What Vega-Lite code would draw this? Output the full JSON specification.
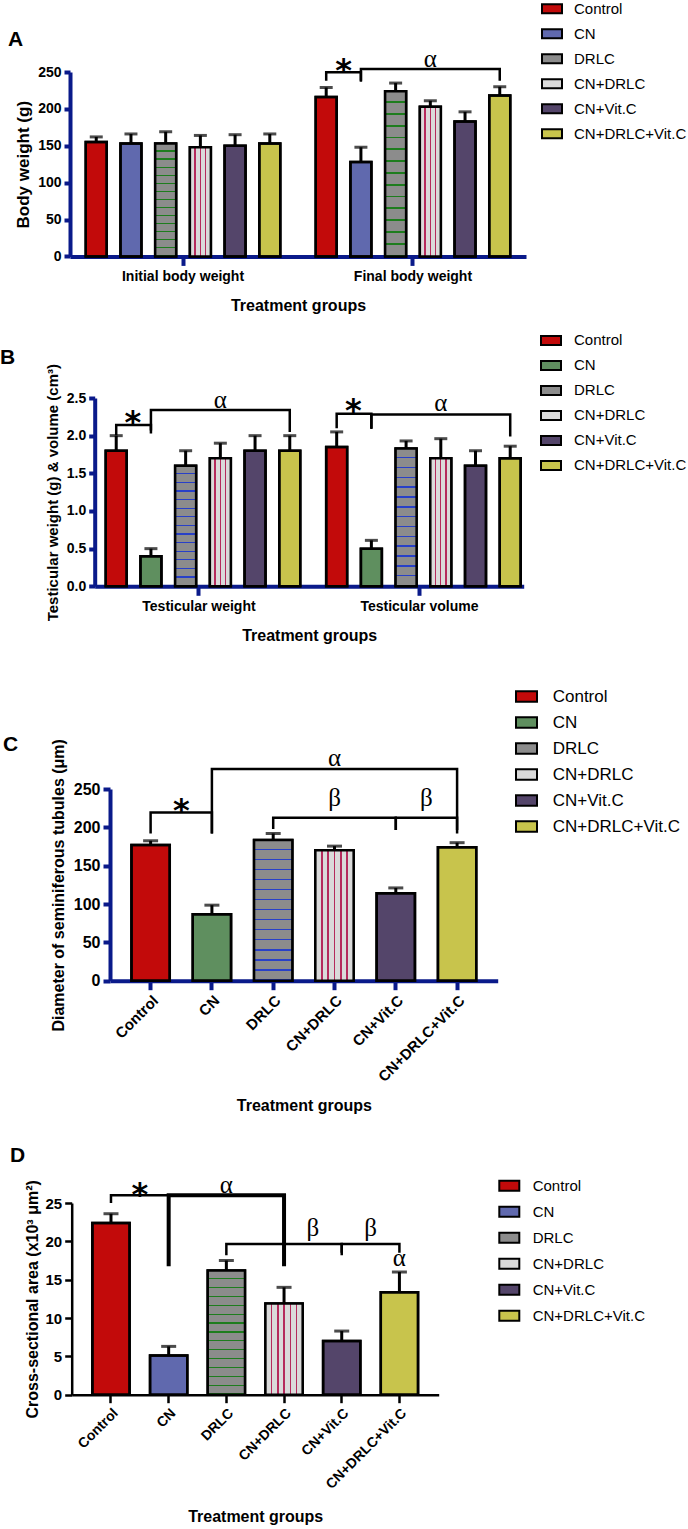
{
"$schema": "https://vega.github.io/schema/vega-lite/v6.json",
"padding": {"left": 0, "top": -3, "right": 0, "bottom": 0},
"spacing": 0,
"columns": 1,
"resolve": {"scale": {"fill": "independent"}},
"config": {
  "view": {"stroke": null},
  "font": "Liberation Sans",
  "axis": {"labelColor": "black", "titleColor": "black", "labelFontWeight": "bold", "titleFontWeight": "bold", "grid": false, "labelFont": "Liberation Sans", "titleFont": "Liberation Sans"},
  "legend": {"title": null, "orient": "none", "symbolStrokeColor": "black", "symbolStrokeWidth": 2, "labelFont": "Liberation Sans", "labelFontWeight": "normal", "labelColor": "black", "padding": 0, "symbolOpacity": 1},
  "title": {"font": "Liberation Sans", "fontWeight": "bold", "fontSize": 21, "color": "black", "anchor": "start", "frame": "group", "orient": "top", "baseline": "alphabetic"}
},
"datasets": {
  "A": [
    {"group": "Initial body weight", "bar": "Control", "value": 155, "upper": 162},
    {"group": "Initial body weight", "bar": "CN", "value": 153, "upper": 166},
    {"group": "Initial body weight", "bar": "DRLC", "value": 153, "upper": 169},
    {"group": "Initial body weight", "bar": "CN+DRLC", "value": 148, "upper": 164},
    {"group": "Initial body weight", "bar": "CN+Vit.C", "value": 150, "upper": 165},
    {"group": "Initial body weight", "bar": "CN+DRLC+Vit.C", "value": 153, "upper": 166},
    {"group": "Final body weight", "bar": "Control", "value": 216, "upper": 229},
    {"group": "Final body weight", "bar": "CN", "value": 128, "upper": 148},
    {"group": "Final body weight", "bar": "DRLC", "value": 224, "upper": 235},
    {"group": "Final body weight", "bar": "CN+DRLC", "value": 203, "upper": 211},
    {"group": "Final body weight", "bar": "CN+Vit.C", "value": 183, "upper": 196},
    {"group": "Final body weight", "bar": "CN+DRLC+Vit.C", "value": 218, "upper": 230}
  ],
  "A_br": [
    {"br": "s", "group": "Final body weight", "bar": "Control", "y": 238.2, "o": 1},
    {"br": "s", "group": "Final body weight", "bar": "Control", "y": 249.5, "o": 2},
    {"br": "s", "group": "Final body weight", "bar": "CN", "y": 249.5, "o": 3},
    {"br": "s", "group": "Final body weight", "bar": "CN", "y": 238.2, "o": 4},
    {"br": "a", "group": "Final body weight", "bar": "CN", "y": 236.9, "o": 1},
    {"br": "a", "group": "Final body weight", "bar": "CN", "y": 254, "o": 2},
    {"br": "a", "group": "Final body weight", "bar": "CN+DRLC+Vit.C", "y": 254, "o": 3},
    {"br": "a", "group": "Final body weight", "bar": "CN+DRLC+Vit.C", "y": 238.2, "o": 4}
  ],
  "A_lab": [
    {"group": "Final body weight", "bar": "Control", "y": 237.8, "t": "*", "pos": "between"},
    {"group": "Final body weight", "bar": "CN+DRLC", "y": 257.2, "t": "α", "pos": "center"}
  ],
  "B": [
    {"group": "Testicular weight", "bar": "Control", "value": 1.8, "upper": 2.0},
    {"group": "Testicular weight", "bar": "CN", "value": 0.4, "upper": 0.5},
    {"group": "Testicular weight", "bar": "DRLC", "value": 1.6, "upper": 1.8},
    {"group": "Testicular weight", "bar": "CN+DRLC", "value": 1.7, "upper": 1.9},
    {"group": "Testicular weight", "bar": "CN+Vit.C", "value": 1.8, "upper": 2.0},
    {"group": "Testicular weight", "bar": "CN+DRLC+Vit.C", "value": 1.8, "upper": 2.0},
    {"group": "Testicular volume", "bar": "Control", "value": 1.85, "upper": 2.05},
    {"group": "Testicular volume", "bar": "CN", "value": 0.5, "upper": 0.61},
    {"group": "Testicular volume", "bar": "DRLC", "value": 1.83, "upper": 1.93},
    {"group": "Testicular volume", "bar": "CN+DRLC", "value": 1.7, "upper": 1.96},
    {"group": "Testicular volume", "bar": "CN+Vit.C", "value": 1.6, "upper": 1.8},
    {"group": "Testicular volume", "bar": "CN+DRLC+Vit.C", "value": 1.7, "upper": 1.86}
  ],
  "B_br": [
    {"br": "sW", "group": "Testicular weight", "bar": "Control", "y": 2.005, "o": 1},
    {"br": "sW", "group": "Testicular weight", "bar": "Control", "y": 2.14, "o": 2},
    {"br": "sW", "group": "Testicular weight", "bar": "CN", "y": 2.14, "o": 3},
    {"br": "sW", "group": "Testicular weight", "bar": "CN", "y": 2.03, "o": 4},
    {"br": "aW", "group": "Testicular weight", "bar": "CN", "y": 2.07, "o": 1},
    {"br": "aW", "group": "Testicular weight", "bar": "CN", "y": 2.34, "o": 2},
    {"br": "aW", "group": "Testicular weight", "bar": "CN+DRLC+Vit.C", "y": 2.34, "o": 3},
    {"br": "aW", "group": "Testicular weight", "bar": "CN+DRLC+Vit.C", "y": 2.05, "o": 4},
    {"br": "sV", "group": "Testicular volume", "bar": "Control", "y": 2.1, "o": 1},
    {"br": "sV", "group": "Testicular volume", "bar": "Control", "y": 2.29, "o": 2},
    {"br": "sV", "group": "Testicular volume", "bar": "CN", "y": 2.29, "o": 3},
    {"br": "sV", "group": "Testicular volume", "bar": "CN", "y": 2.1, "o": 4},
    {"br": "aV", "group": "Testicular volume", "bar": "CN", "y": 2.09, "o": 1},
    {"br": "aV", "group": "Testicular volume", "bar": "CN", "y": 2.28, "o": 2},
    {"br": "aV", "group": "Testicular volume", "bar": "CN+DRLC+Vit.C", "y": 2.28, "o": 3},
    {"br": "aV", "group": "Testicular volume", "bar": "CN+DRLC+Vit.C", "y": 1.99, "o": 4}
  ],
  "B_lab": [
    {"group": "Testicular weight", "bar": "Control", "y": 2.03, "t": "*", "pos": "between"},
    {"group": "Testicular weight", "bar": "CN+DRLC", "y": 2.37, "t": "α", "pos": "center"},
    {"group": "Testicular volume", "bar": "Control", "y": 2.2, "t": "*", "pos": "between"},
    {"group": "Testicular volume", "bar": "CN+DRLC", "y": 2.33, "t": "α", "pos": "center"}
  ],
  "C": [
    {"bar": "Control", "value": 177, "upper": 182.5},
    {"bar": "CN", "value": 86.5, "upper": 98.5},
    {"bar": "DRLC", "value": 183.5, "upper": 192},
    {"bar": "CN+DRLC", "value": 170, "upper": 175.5},
    {"bar": "CN+Vit.C", "value": 114, "upper": 121},
    {"bar": "CN+DRLC+Vit.C", "value": 174, "upper": 180}
  ],
  "C_br": [
    {"br": "s", "bar": "Control", "y": 192, "o": 1},
    {"br": "s", "bar": "Control", "y": 219.5, "o": 2},
    {"br": "s", "bar": "CN", "y": 219.5, "o": 3},
    {"br": "s", "bar": "CN", "y": 192, "o": 4},
    {"br": "a", "bar": "CN", "y": 192, "o": 1},
    {"br": "a", "bar": "CN", "y": 276, "o": 2},
    {"br": "a", "bar": "CN+DRLC+Vit.C", "y": 276, "o": 3},
    {"br": "a", "bar": "CN+DRLC+Vit.C", "y": 192, "o": 4},
    {"br": "b1", "bar": "DRLC", "y": 197.7, "o": 1},
    {"br": "b1", "bar": "DRLC", "y": 212.6, "o": 2},
    {"br": "b1", "bar": "CN+Vit.C", "y": 212.6, "o": 3},
    {"br": "b1", "bar": "CN+Vit.C", "y": 196.4, "o": 4},
    {"br": "b2", "bar": "CN+Vit.C", "y": 196.4, "o": 1},
    {"br": "b2", "bar": "CN+Vit.C", "y": 212.6, "o": 2},
    {"br": "b2", "bar": "CN+DRLC+Vit.C", "y": 212.6, "o": 3},
    {"br": "b2", "bar": "CN+DRLC+Vit.C", "y": 196.4, "o": 4}
  ],
  "C_lab": [
    {"bar": "Control", "y": 208.7, "t": "*", "pos": "between"},
    {"bar": "CN+DRLC", "y": 279.5, "t": "α", "pos": "center"},
    {"bar": "CN+DRLC", "y": 227.3, "t": "β", "pos": "center"},
    {"bar": "CN+Vit.C", "y": 227.3, "t": "β", "pos": "between"}
  ],
  "D": [
    {"bar": "Control", "value": 22.4, "upper": 23.6},
    {"bar": "CN", "value": 5.1, "upper": 6.3},
    {"bar": "DRLC", "value": 16.2, "upper": 17.5},
    {"bar": "CN+DRLC", "value": 11.9, "upper": 14.0},
    {"bar": "CN+Vit.C", "value": 7.0, "upper": 8.3},
    {"bar": "CN+DRLC+Vit.C", "value": 13.35, "upper": 16.0}
  ],
  "D_br": [
    {"br": "s", "bar": "Control", "y": 25.0, "o": 1},
    {"br": "s", "bar": "Control", "y": 26.0, "o": 2},
    {"br": "s", "bar": "CN", "y": 26.0, "o": 3},
    {"br": "s", "bar": "CN", "y": 24.2, "o": 4},
    {"br": "a", "bar": "CN", "y": 16.75, "o": 1},
    {"br": "a", "bar": "CN", "y": 26.0, "o": 2},
    {"br": "a", "bar": "CN+DRLC", "y": 26.0, "o": 3},
    {"br": "a", "bar": "CN+DRLC", "y": 16.75, "o": 4},
    {"br": "b1", "bar": "DRLC", "y": 18.2, "o": 1},
    {"br": "b1", "bar": "DRLC", "y": 19.65, "o": 2},
    {"br": "b1", "bar": "CN+Vit.C", "y": 19.65, "o": 3},
    {"br": "b1", "bar": "CN+Vit.C", "y": 18.2, "o": 4},
    {"br": "b2", "bar": "CN+Vit.C", "y": 18.5, "o": 1},
    {"br": "b2", "bar": "CN+Vit.C", "y": 19.65, "o": 2},
    {"br": "b2", "bar": "CN+DRLC+Vit.C", "y": 19.65, "o": 3},
    {"br": "b2", "bar": "CN+DRLC+Vit.C", "y": 18.5, "o": 4}
  ],
  "D_lab": [
    {"bar": "Control", "y": 24.7, "t": "*", "pos": "between"},
    {"bar": "DRLC", "y": 26.3, "t": "α", "pos": "center"},
    {"bar": "CN+DRLC", "y": 20.7, "t": "β", "pos": "between"},
    {"bar": "CN+Vit.C", "y": 20.7, "t": "β", "pos": "between"},
    {"bar": "CN+DRLC+Vit.C", "y": 16.75, "t": "α", "pos": "center"}
  ]
},
"concat": [
{
  "width": 456, "height": 184.4,
  "title": {"text": "A", "dx": -62, "offset": -51.9},
  "data": {"name": "A"},
  "encoding": {
    "x": {"field": "group", "type": "nominal", "scale": {"domain": ["Initial body weight", "Final body weight"], "paddingInner": 0.154, "paddingOuter": 0.0685},
      "axis": {"title": ["Treatment groups", ""], "titleLineHeight": 14.7, "labelAngle": 0, "labelFontSize": 14, "labelPadding": 4.5, "titleFontSize": 16, "titlePadding": 13.8, "domainColor": "#0a1a8a", "domainWidth": 4, "tickColor": "#0a1a8a", "tickWidth": 4, "tickSize": 9}},
    "xOffset": {"field": "bar", "type": "nominal", "scale": {"domain": ["Control", "CN", "DRLC", "CN+DRLC", "CN+Vit.C", "CN+DRLC+Vit.C"], "paddingInner": 0.395, "paddingOuter": 0}}
  },
  "layer": [
    {"mark": {"type": "bar", "stroke": "black", "strokeWidth": 2.5},
     "encoding": {
       "y": {"field": "value", "type": "quantitative", "title": "Body weight (g)", "scale": {"domain": [0, 250], "nice": false},
         "axis": {"values": [0, 50, 100, 150, 200, 250], "labelFontSize": 14, "labelPadding": 3, "titleFontSize": 17, "titlePadding": 5, "domainColor": "#0a1a8a", "domainWidth": 4, "tickColor": "#0a1a8a", "tickWidth": 4, "tickSize": 6}},
       "fill": {"field": "bar", "type": "nominal", "scale": {"domain": ["Control", "CN", "DRLC", "CN+DRLC", "CN+Vit.C", "CN+DRLC+Vit.C"], "range": ["#c20a0a", "#6069ae", "#8c8c8c", "#dadada", "#54456a", "#c8c44c"]},
         "legend": {"legendX": 471, "legendY": -74.3, "symbolType": "M-1,-0.45H1V0.45H-1Z", "symbolSize": 400, "labelFontSize": 15, "labelOffset": 11, "rowPadding": 5}}
     }},
    {"mark": {"type": "bar", "stroke": "black", "strokeWidth": 2.5},
     "encoding": {
       "y": {"field": "value", "type": "quantitative", "title": "Body weight (g)", "axis": {"values": [0, 50, 100, 150, 200, 250], "labelFontSize": 14, "labelPadding": 3, "titleFontSize": 17, "titlePadding": 5, "domainColor": "#0a1a8a", "domainWidth": 4, "tickColor": "#0a1a8a", "tickWidth": 4, "tickSize": 6}},
       "fill": {"condition": [
         {"test": "datum.bar === 'DRLC'", "value": {"gradient": "linear", "x1": 0, "y1": 0, "x2": 0, "y2": 1, "stops": [
           {"offset": 0, "color": "#8c8c8c"}, {"offset": 0.0607, "color": "#8c8c8c"}, {"offset": 0.0607, "color": "#1e7d1e"}, {"offset": 0.0714, "color": "#1e7d1e"},
           {"offset": 0.0714, "color": "#8c8c8c"}, {"offset": 0.1321, "color": "#8c8c8c"}, {"offset": 0.1321, "color": "#1e7d1e"}, {"offset": 0.1429, "color": "#1e7d1e"},
           {"offset": 0.1429, "color": "#8c8c8c"}, {"offset": 0.2036, "color": "#8c8c8c"}, {"offset": 0.2036, "color": "#1e7d1e"}, {"offset": 0.2143, "color": "#1e7d1e"},
           {"offset": 0.2143, "color": "#8c8c8c"}, {"offset": 0.275, "color": "#8c8c8c"}, {"offset": 0.275, "color": "#1e7d1e"}, {"offset": 0.2857, "color": "#1e7d1e"},
           {"offset": 0.2857, "color": "#8c8c8c"}, {"offset": 0.3464, "color": "#8c8c8c"}, {"offset": 0.3464, "color": "#1e7d1e"}, {"offset": 0.3571, "color": "#1e7d1e"},
           {"offset": 0.3571, "color": "#8c8c8c"}, {"offset": 0.4179, "color": "#8c8c8c"}, {"offset": 0.4179, "color": "#1e7d1e"}, {"offset": 0.4286, "color": "#1e7d1e"},
           {"offset": 0.4286, "color": "#8c8c8c"}, {"offset": 0.4893, "color": "#8c8c8c"}, {"offset": 0.4893, "color": "#1e7d1e"}, {"offset": 0.5, "color": "#1e7d1e"},
           {"offset": 0.5, "color": "#8c8c8c"}, {"offset": 0.5607, "color": "#8c8c8c"}, {"offset": 0.5607, "color": "#1e7d1e"}, {"offset": 0.5714, "color": "#1e7d1e"},
           {"offset": 0.5714, "color": "#8c8c8c"}, {"offset": 0.6321, "color": "#8c8c8c"}, {"offset": 0.6321, "color": "#1e7d1e"}, {"offset": 0.6429, "color": "#1e7d1e"},
           {"offset": 0.6429, "color": "#8c8c8c"}, {"offset": 0.7036, "color": "#8c8c8c"}, {"offset": 0.7036, "color": "#1e7d1e"}, {"offset": 0.7143, "color": "#1e7d1e"},
           {"offset": 0.7143, "color": "#8c8c8c"}, {"offset": 0.775, "color": "#8c8c8c"}, {"offset": 0.775, "color": "#1e7d1e"}, {"offset": 0.7857, "color": "#1e7d1e"},
           {"offset": 0.7857, "color": "#8c8c8c"}, {"offset": 0.8464, "color": "#8c8c8c"}, {"offset": 0.8464, "color": "#1e7d1e"}, {"offset": 0.8571, "color": "#1e7d1e"},
           {"offset": 0.8571, "color": "#8c8c8c"}, {"offset": 0.9179, "color": "#8c8c8c"}, {"offset": 0.9179, "color": "#1e7d1e"}, {"offset": 0.9286, "color": "#1e7d1e"},
           {"offset": 0.9286, "color": "#8c8c8c"}, {"offset": 0.9893, "color": "#8c8c8c"}, {"offset": 0.9893, "color": "#1e7d1e"}, {"offset": 1, "color": "#1e7d1e"}]}},
         {"test": "datum.bar === 'CN+DRLC'", "value": {"gradient": "linear", "x1": 0, "y1": 0, "x2": 1, "y2": 0, "stops": [
           {"offset": 0, "color": "#dadada"}, {"offset": 0.22, "color": "#dadada"}, {"offset": 0.22, "color": "#b52a5c"}, {"offset": 0.28, "color": "#b52a5c"},
           {"offset": 0.28, "color": "#dadada"}, {"offset": 0.47, "color": "#dadada"}, {"offset": 0.47, "color": "#b52a5c"}, {"offset": 0.53, "color": "#b52a5c"},
           {"offset": 0.53, "color": "#dadada"}, {"offset": 0.72, "color": "#dadada"}, {"offset": 0.72, "color": "#b52a5c"}, {"offset": 0.78, "color": "#b52a5c"},
           {"offset": 0.78, "color": "#dadada"}, {"offset": 1, "color": "#dadada"}]}}
       ], "value": "transparent"}
     }},
    {"mark": {"type": "rule", "color": "black", "strokeWidth": 3},
     "encoding": {"y": {"field": "value", "type": "quantitative", "title": "Body weight (g)", "axis": {"values": [0, 50, 100, 150, 200, 250], "labelFontSize": 14, "labelPadding": 3, "titleFontSize": 17, "titlePadding": 5, "domainColor": "#0a1a8a", "domainWidth": 4, "tickColor": "#0a1a8a", "tickWidth": 4, "tickSize": 6}}, "y2": {"field": "upper"}}},
    {"mark": {"type": "tick", "color": "black", "thickness": 3, "size": 13},
     "encoding": {"y": {"field": "upper", "type": "quantitative", "title": "Body weight (g)", "axis": {"values": [0, 50, 100, 150, 200, 250], "labelFontSize": 14, "labelPadding": 3, "titleFontSize": 17, "titlePadding": 5, "domainColor": "#0a1a8a", "domainWidth": 4, "tickColor": "#0a1a8a", "tickWidth": 4, "tickSize": 6}}}},
    {"data": {"name": "A_br"}, "mark": {"type": "line", "color": "black", "strokeWidth": 2.5, "strokeJoin": "miter"},
     "encoding": {"y": {"field": "y", "type": "quantitative", "title": "Body weight (g)", "axis": {"values": [0, 50, 100, 150, 200, 250], "labelFontSize": 14, "labelPadding": 3, "titleFontSize": 17, "titlePadding": 5, "domainColor": "#0a1a8a", "domainWidth": 4, "tickColor": "#0a1a8a", "tickWidth": 4, "tickSize": 6}}, "detail": {"field": "br"}, "order": {"field": "o"}}},
    {"data": {"name": "A_lab"}, "transform": [{"filter": "datum.t === '*'"}],
     "mark": {"type": "text", "font": "DejaVu Sans", "fontWeight": "bold", "fontSize": 32, "baseline": "alphabetic", "dx": 17.35, "color": "black"},
     "encoding": {"y": {"field": "y", "type": "quantitative", "title": "Body weight (g)", "axis": {"values": [0, 50, 100, 150, 200, 250], "labelFontSize": 14, "labelPadding": 3, "titleFontSize": 17, "titlePadding": 5, "domainColor": "#0a1a8a", "domainWidth": 4, "tickColor": "#0a1a8a", "tickWidth": 4, "tickSize": 6}}, "text": {"field": "t"}}},
    {"data": {"name": "A_lab"}, "transform": [{"filter": "datum.t !== '*'"}],
     "mark": {"type": "text", "font": "Liberation Serif", "fontSize": 25, "baseline": "alphabetic", "color": "black"},
     "encoding": {"y": {"field": "y", "type": "quantitative", "title": "Body weight (g)", "axis": {"values": [0, 50, 100, 150, 200, 250], "labelFontSize": 14, "labelPadding": 3, "titleFontSize": 17, "titlePadding": 5, "domainColor": "#0a1a8a", "domainWidth": 4, "tickColor": "#0a1a8a", "tickWidth": 4, "tickSize": 6}}, "text": {"field": "t"}}}
  ]
},
{
  "width": 453.7, "height": 188.3,
  "title": {"text": "B", "dx": -70, "offset": -38.1},
  "data": {"name": "B"},
  "encoding": {
    "x": {"field": "group", "type": "nominal", "scale": {"domain": ["Testicular weight", "Testicular volume"], "range": [24.7, 453.7], "paddingInner": 0.154, "paddingOuter": 0.05},
      "axis": {"title": ["Treatment groups", ""], "titleLineHeight": 41.3, "labelAngle": 0, "labelFontSize": 14, "labelPadding": 4.3, "titleFontSize": 16, "titlePadding": 14, "domainColor": "#0a1a8a", "domainWidth": 4, "tickColor": "#0a1a8a", "tickWidth": 4, "tickSize": 9}},
    "xOffset": {"field": "bar", "type": "nominal", "scale": {"domain": ["Control", "CN", "DRLC", "CN+DRLC", "CN+Vit.C", "CN+DRLC+Vit.C"], "paddingInner": 0.4, "paddingOuter": 0}}
  },
  "layer": [
    {"mark": {"type": "bar", "stroke": "black", "strokeWidth": 2.5},
     "encoding": {
       "y": {"field": "value", "type": "quantitative", "title": "Testicular weight (g) & volume (cm³)", "scale": {"domain": [0, 2.5], "nice": false},
         "axis": {"offset": -24.7, "values": [0, 0.5, 1, 1.5, 2, 2.5], "format": ".1f", "labelFontSize": 14, "labelPadding": 3, "titleFontSize": 15, "titlePadding": 6, "domainColor": "#0a1a8a", "domainWidth": 4, "tickColor": "#0a1a8a", "tickWidth": 4, "tickSize": 6}},
       "fill": {"field": "bar", "type": "nominal", "scale": {"domain": ["Control", "CN", "DRLC", "CN+DRLC", "CN+Vit.C", "CN+DRLC+Vit.C"], "range": ["#c20a0a", "#5f8f5f", "#8c8c8c", "#dadada", "#54456a", "#c8c44c"]},
         "legend": {"legendX": 470, "legendY": -68.6, "symbolType": "M-1,-0.45H1V0.45H-1Z", "symbolSize": 400, "labelFontSize": 15, "labelOffset": 12, "rowPadding": 5}}
     }},
    {"mark": {"type": "bar", "stroke": "black", "strokeWidth": 2.5},
     "encoding": {
       "y": {"field": "value", "type": "quantitative", "title": "Testicular weight (g) & volume (cm³)", "axis": {"offset": -24.7, "values": [0, 0.5, 1, 1.5, 2, 2.5], "format": ".1f", "labelFontSize": 14, "labelPadding": 3, "titleFontSize": 15, "titlePadding": 6, "domainColor": "#0a1a8a", "domainWidth": 4, "tickColor": "#0a1a8a", "tickWidth": 4, "tickSize": 6}},
       "fill": {"condition": [
         {"test": "datum.bar === 'DRLC'", "value": {"gradient": "linear", "x1": 0, "y1": 0, "x2": 0, "y2": 1, "stops": [
           {"offset": 0, "color": "#8c8c8c"}, {"offset": 0.0607, "color": "#8c8c8c"}, {"offset": 0.0607, "color": "#2840c8"}, {"offset": 0.0714, "color": "#2840c8"},
           {"offset": 0.0714, "color": "#8c8c8c"}, {"offset": 0.1321, "color": "#8c8c8c"}, {"offset": 0.1321, "color": "#2840c8"}, {"offset": 0.1429, "color": "#2840c8"},
           {"offset": 0.1429, "color": "#8c8c8c"}, {"offset": 0.2036, "color": "#8c8c8c"}, {"offset": 0.2036, "color": "#2840c8"}, {"offset": 0.2143, "color": "#2840c8"},
           {"offset": 0.2143, "color": "#8c8c8c"}, {"offset": 0.275, "color": "#8c8c8c"}, {"offset": 0.275, "color": "#2840c8"}, {"offset": 0.2857, "color": "#2840c8"},
           {"offset": 0.2857, "color": "#8c8c8c"}, {"offset": 0.3464, "color": "#8c8c8c"}, {"offset": 0.3464, "color": "#2840c8"}, {"offset": 0.3571, "color": "#2840c8"},
           {"offset": 0.3571, "color": "#8c8c8c"}, {"offset": 0.4179, "color": "#8c8c8c"}, {"offset": 0.4179, "color": "#2840c8"}, {"offset": 0.4286, "color": "#2840c8"},
           {"offset": 0.4286, "color": "#8c8c8c"}, {"offset": 0.4893, "color": "#8c8c8c"}, {"offset": 0.4893, "color": "#2840c8"}, {"offset": 0.5, "color": "#2840c8"},
           {"offset": 0.5, "color": "#8c8c8c"}, {"offset": 0.5607, "color": "#8c8c8c"}, {"offset": 0.5607, "color": "#2840c8"}, {"offset": 0.5714, "color": "#2840c8"},
           {"offset": 0.5714, "color": "#8c8c8c"}, {"offset": 0.6321, "color": "#8c8c8c"}, {"offset": 0.6321, "color": "#2840c8"}, {"offset": 0.6429, "color": "#2840c8"},
           {"offset": 0.6429, "color": "#8c8c8c"}, {"offset": 0.7036, "color": "#8c8c8c"}, {"offset": 0.7036, "color": "#2840c8"}, {"offset": 0.7143, "color": "#2840c8"},
           {"offset": 0.7143, "color": "#8c8c8c"}, {"offset": 0.775, "color": "#8c8c8c"}, {"offset": 0.775, "color": "#2840c8"}, {"offset": 0.7857, "color": "#2840c8"},
           {"offset": 0.7857, "color": "#8c8c8c"}, {"offset": 0.8464, "color": "#8c8c8c"}, {"offset": 0.8464, "color": "#2840c8"}, {"offset": 0.8571, "color": "#2840c8"},
           {"offset": 0.8571, "color": "#8c8c8c"}, {"offset": 0.9179, "color": "#8c8c8c"}, {"offset": 0.9179, "color": "#2840c8"}, {"offset": 0.9286, "color": "#2840c8"},
           {"offset": 0.9286, "color": "#8c8c8c"}, {"offset": 0.9893, "color": "#8c8c8c"}, {"offset": 0.9893, "color": "#2840c8"}, {"offset": 1, "color": "#2840c8"}]}},
         {"test": "datum.bar === 'CN+DRLC'", "value": {"gradient": "linear", "x1": 0, "y1": 0, "x2": 1, "y2": 0, "stops": [
           {"offset": 0, "color": "#dadada"}, {"offset": 0.22, "color": "#dadada"}, {"offset": 0.22, "color": "#b52a5c"}, {"offset": 0.28, "color": "#b52a5c"},
           {"offset": 0.28, "color": "#dadada"}, {"offset": 0.47, "color": "#dadada"}, {"offset": 0.47, "color": "#b52a5c"}, {"offset": 0.53, "color": "#b52a5c"},
           {"offset": 0.53, "color": "#dadada"}, {"offset": 0.72, "color": "#dadada"}, {"offset": 0.72, "color": "#b52a5c"}, {"offset": 0.78, "color": "#b52a5c"},
           {"offset": 0.78, "color": "#dadada"}, {"offset": 1, "color": "#dadada"}]}}
       ], "value": "transparent"}
     }},
    {"mark": {"type": "rule", "color": "black", "strokeWidth": 3},
     "encoding": {"y": {"field": "value", "type": "quantitative", "title": "Testicular weight (g) & volume (cm³)", "axis": {"offset": -24.7, "values": [0, 0.5, 1, 1.5, 2, 2.5], "format": ".1f", "labelFontSize": 14, "labelPadding": 3, "titleFontSize": 15, "titlePadding": 6, "domainColor": "#0a1a8a", "domainWidth": 4, "tickColor": "#0a1a8a", "tickWidth": 4, "tickSize": 6}}, "y2": {"field": "upper"}}},
    {"mark": {"type": "tick", "color": "black", "thickness": 3, "size": 13},
     "encoding": {"y": {"field": "upper", "type": "quantitative", "title": "Testicular weight (g) & volume (cm³)", "axis": {"offset": -24.7, "values": [0, 0.5, 1, 1.5, 2, 2.5], "format": ".1f", "labelFontSize": 14, "labelPadding": 3, "titleFontSize": 15, "titlePadding": 6, "domainColor": "#0a1a8a", "domainWidth": 4, "tickColor": "#0a1a8a", "tickWidth": 4, "tickSize": 6}}}},
    {"data": {"name": "B_br"}, "mark": {"type": "line", "color": "black", "strokeWidth": 2.5, "strokeJoin": "miter"},
     "encoding": {"y": {"field": "y", "type": "quantitative", "title": "Testicular weight (g) & volume (cm³)", "axis": {"offset": -24.7, "values": [0, 0.5, 1, 1.5, 2, 2.5], "format": ".1f", "labelFontSize": 14, "labelPadding": 3, "titleFontSize": 15, "titlePadding": 6, "domainColor": "#0a1a8a", "domainWidth": 4, "tickColor": "#0a1a8a", "tickWidth": 4, "tickSize": 6}}, "detail": {"field": "br"}, "order": {"field": "o"}}},
    {"data": {"name": "B_lab"}, "transform": [{"filter": "datum.t === '*'"}],
     "mark": {"type": "text", "font": "DejaVu Sans", "fontWeight": "bold", "fontSize": 32, "baseline": "alphabetic", "dx": 16.65, "color": "black"},
     "encoding": {"y": {"field": "y", "type": "quantitative", "title": "Testicular weight (g) & volume (cm³)", "axis": {"offset": -24.7, "values": [0, 0.5, 1, 1.5, 2, 2.5], "format": ".1f", "labelFontSize": 14, "labelPadding": 3, "titleFontSize": 15, "titlePadding": 6, "domainColor": "#0a1a8a", "domainWidth": 4, "tickColor": "#0a1a8a", "tickWidth": 4, "tickSize": 6}}, "text": {"field": "t"}}},
    {"data": {"name": "B_lab"}, "transform": [{"filter": "datum.t !== '*'"}],
     "mark": {"type": "text", "font": "Liberation Serif", "fontSize": 25, "baseline": "alphabetic", "color": "black"},
     "encoding": {"y": {"field": "y", "type": "quantitative", "title": "Testicular weight (g) & volume (cm³)", "axis": {"offset": -24.7, "values": [0, 0.5, 1, 1.5, 2, 2.5], "format": ".1f", "labelFontSize": 14, "labelPadding": 3, "titleFontSize": 15, "titlePadding": 6, "domainColor": "#0a1a8a", "domainWidth": 4, "tickColor": "#0a1a8a", "tickWidth": 4, "tickSize": 6}}, "text": {"field": "t"}}}
  ]
},
{
  "width": 427.7, "height": 191.7,
  "title": {"text": "C", "dx": -67, "offset": -69.4},
  "data": {"name": "C"},
  "encoding": {
    "x": {"field": "bar", "type": "nominal", "scale": {"domain": ["Control", "CN", "DRLC", "CN+DRLC", "CN+Vit.C", "CN+DRLC+Vit.C"], "range": [40, 427.7], "paddingInner": 0.375, "paddingOuter": 0.35},
      "axis": {"title": ["Treatment groups", ""], "titleLineHeight": 31.3, "labelAngle": -45, "labelFontSize": 15, "labelPadding": 3, "titleFontSize": 16, "titlePadding": 12.7, "domainColor": "#0a1a8a", "domainWidth": 4, "tickColor": "#0a1a8a", "tickWidth": 4, "tickSize": 9}}
  },
  "layer": [
    {"mark": {"type": "bar", "stroke": "black", "strokeWidth": 2.5},
     "encoding": {
       "y": {"field": "value", "type": "quantitative", "title": "Diameter of seminiferous tubules (μm)", "scale": {"domain": [0, 250], "nice": false},
         "axis": {"offset": -40, "values": [0, 50, 100, 150, 200, 250], "labelFontSize": 16, "labelPadding": 3, "titleFontSize": 16, "titlePadding": 7, "domainColor": "#0a1a8a", "domainWidth": 4, "tickColor": "#0a1a8a", "tickWidth": 4, "tickSize": 7}},
       "fill": {"field": "bar", "type": "nominal", "scale": {"domain": ["Control", "CN", "DRLC", "CN+DRLC", "CN+Vit.C", "CN+DRLC+Vit.C"], "range": ["#c20a0a", "#5f8f5f", "#8c8c8c", "#dadada", "#54456a", "#c8c44c"]},
         "legend": {"legendX": 445, "legendY": -103.9, "symbolType": "M-1,-0.5H1V0.5H-1Z", "symbolSize": 441, "labelFontSize": 17, "labelOffset": 14.7, "rowPadding": 5}}
     }},
    {"mark": {"type": "bar", "stroke": "black", "strokeWidth": 2.5},
     "encoding": {
       "y": {"field": "value", "type": "quantitative", "title": "Diameter of seminiferous tubules (μm)", "axis": {"offset": -40, "values": [0, 50, 100, 150, 200, 250], "labelFontSize": 16, "labelPadding": 3, "titleFontSize": 16, "titlePadding": 7, "domainColor": "#0a1a8a", "domainWidth": 4, "tickColor": "#0a1a8a", "tickWidth": 4, "tickSize": 7}},
       "fill": {"condition": [
         {"test": "datum.bar === 'DRLC'", "value": {"gradient": "linear", "x1": 0, "y1": 0, "x2": 0, "y2": 1, "stops": [
           {"offset": 0, "color": "#8c8c8c"}, {"offset": 0.0607, "color": "#8c8c8c"}, {"offset": 0.0607, "color": "#2840c8"}, {"offset": 0.0714, "color": "#2840c8"},
           {"offset": 0.0714, "color": "#8c8c8c"}, {"offset": 0.1321, "color": "#8c8c8c"}, {"offset": 0.1321, "color": "#2840c8"}, {"offset": 0.1429, "color": "#2840c8"},
           {"offset": 0.1429, "color": "#8c8c8c"}, {"offset": 0.2036, "color": "#8c8c8c"}, {"offset": 0.2036, "color": "#2840c8"}, {"offset": 0.2143, "color": "#2840c8"},
           {"offset": 0.2143, "color": "#8c8c8c"}, {"offset": 0.275, "color": "#8c8c8c"}, {"offset": 0.275, "color": "#2840c8"}, {"offset": 0.2857, "color": "#2840c8"},
           {"offset": 0.2857, "color": "#8c8c8c"}, {"offset": 0.3464, "color": "#8c8c8c"}, {"offset": 0.3464, "color": "#2840c8"}, {"offset": 0.3571, "color": "#2840c8"},
           {"offset": 0.3571, "color": "#8c8c8c"}, {"offset": 0.4179, "color": "#8c8c8c"}, {"offset": 0.4179, "color": "#2840c8"}, {"offset": 0.4286, "color": "#2840c8"},
           {"offset": 0.4286, "color": "#8c8c8c"}, {"offset": 0.4893, "color": "#8c8c8c"}, {"offset": 0.4893, "color": "#2840c8"}, {"offset": 0.5, "color": "#2840c8"},
           {"offset": 0.5, "color": "#8c8c8c"}, {"offset": 0.5607, "color": "#8c8c8c"}, {"offset": 0.5607, "color": "#2840c8"}, {"offset": 0.5714, "color": "#2840c8"},
           {"offset": 0.5714, "color": "#8c8c8c"}, {"offset": 0.6321, "color": "#8c8c8c"}, {"offset": 0.6321, "color": "#2840c8"}, {"offset": 0.6429, "color": "#2840c8"},
           {"offset": 0.6429, "color": "#8c8c8c"}, {"offset": 0.7036, "color": "#8c8c8c"}, {"offset": 0.7036, "color": "#2840c8"}, {"offset": 0.7143, "color": "#2840c8"},
           {"offset": 0.7143, "color": "#8c8c8c"}, {"offset": 0.775, "color": "#8c8c8c"}, {"offset": 0.775, "color": "#2840c8"}, {"offset": 0.7857, "color": "#2840c8"},
           {"offset": 0.7857, "color": "#8c8c8c"}, {"offset": 0.8464, "color": "#8c8c8c"}, {"offset": 0.8464, "color": "#2840c8"}, {"offset": 0.8571, "color": "#2840c8"},
           {"offset": 0.8571, "color": "#8c8c8c"}, {"offset": 0.9179, "color": "#8c8c8c"}, {"offset": 0.9179, "color": "#2840c8"}, {"offset": 0.9286, "color": "#2840c8"},
           {"offset": 0.9286, "color": "#8c8c8c"}, {"offset": 0.9893, "color": "#8c8c8c"}, {"offset": 0.9893, "color": "#2840c8"}, {"offset": 1, "color": "#2840c8"}]}},
         {"test": "datum.bar === 'CN+DRLC'", "value": {"gradient": "linear", "x1": 0, "y1": 0, "x2": 1, "y2": 0, "stops": [
           {"offset": 0, "color": "#dadada"}, {"offset": 0.147, "color": "#dadada"}, {"offset": 0.147, "color": "#b52a5c"}, {"offset": 0.187, "color": "#b52a5c"},
           {"offset": 0.187, "color": "#dadada"}, {"offset": 0.313, "color": "#dadada"}, {"offset": 0.313, "color": "#b52a5c"}, {"offset": 0.353, "color": "#b52a5c"},
           {"offset": 0.353, "color": "#dadada"}, {"offset": 0.48, "color": "#dadada"}, {"offset": 0.48, "color": "#b52a5c"}, {"offset": 0.52, "color": "#b52a5c"},
           {"offset": 0.52, "color": "#dadada"}, {"offset": 0.647, "color": "#dadada"}, {"offset": 0.647, "color": "#b52a5c"}, {"offset": 0.687, "color": "#b52a5c"},
           {"offset": 0.687, "color": "#dadada"}, {"offset": 0.813, "color": "#dadada"}, {"offset": 0.813, "color": "#b52a5c"}, {"offset": 0.853, "color": "#b52a5c"},
           {"offset": 0.853, "color": "#dadada"}, {"offset": 1, "color": "#dadada"}]}}
       ], "value": "transparent"}
     }},
    {"mark": {"type": "rule", "color": "black", "strokeWidth": 3},
     "encoding": {"y": {"field": "value", "type": "quantitative", "title": "Diameter of seminiferous tubules (μm)", "axis": {"offset": -40, "values": [0, 50, 100, 150, 200, 250], "labelFontSize": 16, "labelPadding": 3, "titleFontSize": 16, "titlePadding": 7, "domainColor": "#0a1a8a", "domainWidth": 4, "tickColor": "#0a1a8a", "tickWidth": 4, "tickSize": 7}}, "y2": {"field": "upper"}}},
    {"mark": {"type": "tick", "color": "black", "thickness": 3, "size": 15},
     "encoding": {"y": {"field": "upper", "type": "quantitative", "title": "Diameter of seminiferous tubules (μm)", "axis": {"offset": -40, "values": [0, 50, 100, 150, 200, 250], "labelFontSize": 16, "labelPadding": 3, "titleFontSize": 16, "titlePadding": 7, "domainColor": "#0a1a8a", "domainWidth": 4, "tickColor": "#0a1a8a", "tickWidth": 4, "tickSize": 7}}}},
    {"data": {"name": "C_br"}, "mark": {"type": "line", "color": "black", "strokeWidth": 2.5, "strokeJoin": "miter"},
     "encoding": {"y": {"field": "y", "type": "quantitative", "title": "Diameter of seminiferous tubules (μm)", "axis": {"offset": -40, "values": [0, 50, 100, 150, 200, 250], "labelFontSize": 16, "labelPadding": 3, "titleFontSize": 16, "titlePadding": 7, "domainColor": "#0a1a8a", "domainWidth": 4, "tickColor": "#0a1a8a", "tickWidth": 4, "tickSize": 7}}, "detail": {"field": "br"}, "order": {"field": "o"}}},
    {"data": {"name": "C_lab"}, "transform": [{"filter": "datum.t === '*'"}],
     "mark": {"type": "text", "font": "DejaVu Sans", "fontWeight": "bold", "fontSize": 32, "baseline": "alphabetic", "dx": 30.65, "color": "black"},
     "encoding": {"y": {"field": "y", "type": "quantitative", "title": "Diameter of seminiferous tubules (μm)", "axis": {"offset": -40, "values": [0, 50, 100, 150, 200, 250], "labelFontSize": 16, "labelPadding": 3, "titleFontSize": 16, "titlePadding": 7, "domainColor": "#0a1a8a", "domainWidth": 4, "tickColor": "#0a1a8a", "tickWidth": 4, "tickSize": 7}}, "text": {"field": "t"}}},
    {"data": {"name": "C_lab"}, "transform": [{"filter": "datum.t !== '*' && datum.pos === 'center'"}],
     "mark": {"type": "text", "font": "Liberation Serif", "fontSize": 25, "baseline": "alphabetic", "color": "black"},
     "encoding": {"y": {"field": "y", "type": "quantitative", "title": "Diameter of seminiferous tubules (μm)", "axis": {"offset": -40, "values": [0, 50, 100, 150, 200, 250], "labelFontSize": 16, "labelPadding": 3, "titleFontSize": 16, "titlePadding": 7, "domainColor": "#0a1a8a", "domainWidth": 4, "tickColor": "#0a1a8a", "tickWidth": 4, "tickSize": 7}}, "text": {"field": "t"}}},
    {"data": {"name": "C_lab"}, "transform": [{"filter": "datum.t !== '*' && datum.pos === 'between'"}],
     "mark": {"type": "text", "font": "Liberation Serif", "fontSize": 25, "baseline": "alphabetic", "dx": 30.65, "color": "black"},
     "encoding": {"y": {"field": "y", "type": "quantitative", "title": "Diameter of seminiferous tubules (μm)", "axis": {"offset": -40, "values": [0, 50, 100, 150, 200, 250], "labelFontSize": 16, "labelPadding": 3, "titleFontSize": 16, "titlePadding": 7, "domainColor": "#0a1a8a", "domainWidth": 4, "tickColor": "#0a1a8a", "tickWidth": 4, "tickSize": 7}}, "text": {"field": "t"}}}
  ]
},
{
  "width": 368.7, "height": 191.7,
  "title": {"text": "D", "dx": -60, "offset": 7},
  "data": {"name": "D"},
  "encoding": {
    "x": {"field": "bar", "type": "nominal", "scale": {"domain": ["Control", "CN", "DRLC", "CN+DRLC", "CN+Vit.C", "CN+DRLC+Vit.C"], "range": [1.7, 368.7], "paddingInner": 0.354, "paddingOuter": 0.358},
      "axis": {"title": "Treatment groups", "labelAngle": -45, "labelFontSize": 14, "labelPadding": 3, "titleFontSize": 16, "titlePadding": 17.3, "domainColor": "black", "domainWidth": 2.5, "tickColor": "black", "tickWidth": 2.5, "tickSize": 8}}
  },
  "layer": [
    {"mark": {"type": "bar", "stroke": "black", "strokeWidth": 2.5},
     "encoding": {
       "y": {"field": "value", "type": "quantitative", "title": "Cross-sectional area (x10³ μm²)", "scale": {"domain": [0, 25], "nice": false},
         "axis": {"offset": -1.7, "values": [0, 5, 10, 15, 20, 25], "labelFontSize": 15, "labelPadding": 3, "titleFontSize": 16, "titlePadding": 5, "domainColor": "black", "domainWidth": 2.5, "tickColor": "black", "tickWidth": 2.5, "tickSize": 7}},
       "fill": {"field": "bar", "type": "nominal", "scale": {"domain": ["Control", "CN", "DRLC", "CN+DRLC", "CN+Vit.C", "CN+DRLC+Vit.C"], "range": ["#c20a0a", "#6069ae", "#8c8c8c", "#dadada", "#54456a", "#c8c44c"]},
         "legend": {"legendX": 428.3, "legendY": -28.3, "symbolType": "M-1,-0.5H1V0.5H-1Z", "symbolSize": 400, "labelFontSize": 15, "labelOffset": 12.4, "rowPadding": 6}}
     }},
    {"mark": {"type": "bar", "stroke": "black", "strokeWidth": 2.5},
     "encoding": {
       "y": {"field": "value", "type": "quantitative", "title": "Cross-sectional area (x10³ μm²)", "axis": {"offset": -1.7, "values": [0, 5, 10, 15, 20, 25], "labelFontSize": 15, "labelPadding": 3, "titleFontSize": 16, "titlePadding": 5, "domainColor": "black", "domainWidth": 2.5, "tickColor": "black", "tickWidth": 2.5, "tickSize": 7}},
       "fill": {"condition": [
         {"test": "datum.bar === 'DRLC'", "value": {"gradient": "linear", "x1": 0, "y1": 0, "x2": 0, "y2": 1, "stops": [
           {"offset": 0, "color": "#8c8c8c"}, {"offset": 0.0607, "color": "#8c8c8c"}, {"offset": 0.0607, "color": "#1e7d1e"}, {"offset": 0.0714, "color": "#1e7d1e"},
           {"offset": 0.0714, "color": "#8c8c8c"}, {"offset": 0.1321, "color": "#8c8c8c"}, {"offset": 0.1321, "color": "#1e7d1e"}, {"offset": 0.1429, "color": "#1e7d1e"},
           {"offset": 0.1429, "color": "#8c8c8c"}, {"offset": 0.2036, "color": "#8c8c8c"}, {"offset": 0.2036, "color": "#1e7d1e"}, {"offset": 0.2143, "color": "#1e7d1e"},
           {"offset": 0.2143, "color": "#8c8c8c"}, {"offset": 0.275, "color": "#8c8c8c"}, {"offset": 0.275, "color": "#1e7d1e"}, {"offset": 0.2857, "color": "#1e7d1e"},
           {"offset": 0.2857, "color": "#8c8c8c"}, {"offset": 0.3464, "color": "#8c8c8c"}, {"offset": 0.3464, "color": "#1e7d1e"}, {"offset": 0.3571, "color": "#1e7d1e"},
           {"offset": 0.3571, "color": "#8c8c8c"}, {"offset": 0.4179, "color": "#8c8c8c"}, {"offset": 0.4179, "color": "#1e7d1e"}, {"offset": 0.4286, "color": "#1e7d1e"},
           {"offset": 0.4286, "color": "#8c8c8c"}, {"offset": 0.4893, "color": "#8c8c8c"}, {"offset": 0.4893, "color": "#1e7d1e"}, {"offset": 0.5, "color": "#1e7d1e"},
           {"offset": 0.5, "color": "#8c8c8c"}, {"offset": 0.5607, "color": "#8c8c8c"}, {"offset": 0.5607, "color": "#1e7d1e"}, {"offset": 0.5714, "color": "#1e7d1e"},
           {"offset": 0.5714, "color": "#8c8c8c"}, {"offset": 0.6321, "color": "#8c8c8c"}, {"offset": 0.6321, "color": "#1e7d1e"}, {"offset": 0.6429, "color": "#1e7d1e"},
           {"offset": 0.6429, "color": "#8c8c8c"}, {"offset": 0.7036, "color": "#8c8c8c"}, {"offset": 0.7036, "color": "#1e7d1e"}, {"offset": 0.7143, "color": "#1e7d1e"},
           {"offset": 0.7143, "color": "#8c8c8c"}, {"offset": 0.775, "color": "#8c8c8c"}, {"offset": 0.775, "color": "#1e7d1e"}, {"offset": 0.7857, "color": "#1e7d1e"},
           {"offset": 0.7857, "color": "#8c8c8c"}, {"offset": 0.8464, "color": "#8c8c8c"}, {"offset": 0.8464, "color": "#1e7d1e"}, {"offset": 0.8571, "color": "#1e7d1e"},
           {"offset": 0.8571, "color": "#8c8c8c"}, {"offset": 0.9179, "color": "#8c8c8c"}, {"offset": 0.9179, "color": "#1e7d1e"}, {"offset": 0.9286, "color": "#1e7d1e"},
           {"offset": 0.9286, "color": "#8c8c8c"}, {"offset": 0.9893, "color": "#8c8c8c"}, {"offset": 0.9893, "color": "#1e7d1e"}, {"offset": 1, "color": "#1e7d1e"}]}},
         {"test": "datum.bar === 'CN+DRLC'", "value": {"gradient": "linear", "x1": 0, "y1": 0, "x2": 1, "y2": 0, "stops": [
           {"offset": 0, "color": "#dadada"}, {"offset": 0.147, "color": "#dadada"}, {"offset": 0.147, "color": "#b52a5c"}, {"offset": 0.187, "color": "#b52a5c"},
           {"offset": 0.187, "color": "#dadada"}, {"offset": 0.313, "color": "#dadada"}, {"offset": 0.313, "color": "#b52a5c"}, {"offset": 0.353, "color": "#b52a5c"},
           {"offset": 0.353, "color": "#dadada"}, {"offset": 0.48, "color": "#dadada"}, {"offset": 0.48, "color": "#b52a5c"}, {"offset": 0.52, "color": "#b52a5c"},
           {"offset": 0.52, "color": "#dadada"}, {"offset": 0.647, "color": "#dadada"}, {"offset": 0.647, "color": "#b52a5c"}, {"offset": 0.687, "color": "#b52a5c"},
           {"offset": 0.687, "color": "#dadada"}, {"offset": 0.813, "color": "#dadada"}, {"offset": 0.813, "color": "#b52a5c"}, {"offset": 0.853, "color": "#b52a5c"},
           {"offset": 0.853, "color": "#dadada"}, {"offset": 1, "color": "#dadada"}]}}
       ], "value": "transparent"}
     }},
    {"mark": {"type": "rule", "color": "black", "strokeWidth": 3},
     "encoding": {"y": {"field": "value", "type": "quantitative", "title": "Cross-sectional area (x10³ μm²)", "axis": {"offset": -1.7, "values": [0, 5, 10, 15, 20, 25], "labelFontSize": 15, "labelPadding": 3, "titleFontSize": 16, "titlePadding": 5, "domainColor": "black", "domainWidth": 2.5, "tickColor": "black", "tickWidth": 2.5, "tickSize": 7}}, "y2": {"field": "upper"}}},
    {"mark": {"type": "tick", "color": "black", "thickness": 3, "size": 15},
     "encoding": {"y": {"field": "upper", "type": "quantitative", "title": "Cross-sectional area (x10³ μm²)", "axis": {"offset": -1.7, "values": [0, 5, 10, 15, 20, 25], "labelFontSize": 15, "labelPadding": 3, "titleFontSize": 16, "titlePadding": 5, "domainColor": "black", "domainWidth": 2.5, "tickColor": "black", "tickWidth": 2.5, "tickSize": 7}}}},
    {"data": {"name": "D_br"}, "transform": [{"filter": "datum.br !== 'a'"}], "mark": {"type": "line", "color": "black", "strokeWidth": 2.5, "strokeJoin": "miter"},
     "encoding": {"y": {"field": "y", "type": "quantitative", "title": "Cross-sectional area (x10³ μm²)", "axis": {"offset": -1.7, "values": [0, 5, 10, 15, 20, 25], "labelFontSize": 15, "labelPadding": 3, "titleFontSize": 16, "titlePadding": 5, "domainColor": "black", "domainWidth": 2.5, "tickColor": "black", "tickWidth": 2.5, "tickSize": 7}}, "detail": {"field": "br"}, "order": {"field": "o"}}},
    {"data": {"name": "D_br"}, "transform": [{"filter": "datum.br === 'a'"}], "mark": {"type": "line", "color": "black", "strokeWidth": 4, "strokeJoin": "miter"},
     "encoding": {"y": {"field": "y", "type": "quantitative", "title": "Cross-sectional area (x10³ μm²)", "axis": {"offset": -1.7, "values": [0, 5, 10, 15, 20, 25], "labelFontSize": 15, "labelPadding": 3, "titleFontSize": 16, "titlePadding": 5, "domainColor": "black", "domainWidth": 2.5, "tickColor": "black", "tickWidth": 2.5, "tickSize": 7}}, "detail": {"field": "br"}, "order": {"field": "o"}}},
    {"data": {"name": "D_lab"}, "transform": [{"filter": "datum.t === '*'"}],
     "mark": {"type": "text", "font": "DejaVu Sans", "fontWeight": "bold", "fontSize": 32, "baseline": "alphabetic", "dx": 28.85, "color": "black"},
     "encoding": {"y": {"field": "y", "type": "quantitative", "title": "Cross-sectional area (x10³ μm²)", "axis": {"offset": -1.7, "values": [0, 5, 10, 15, 20, 25], "labelFontSize": 15, "labelPadding": 3, "titleFontSize": 16, "titlePadding": 5, "domainColor": "black", "domainWidth": 2.5, "tickColor": "black", "tickWidth": 2.5, "tickSize": 7}}, "text": {"field": "t"}}},
    {"data": {"name": "D_lab"}, "transform": [{"filter": "datum.t !== '*' && datum.pos === 'center'"}],
     "mark": {"type": "text", "font": "Liberation Serif", "fontSize": 25, "baseline": "alphabetic", "color": "black"},
     "encoding": {"y": {"field": "y", "type": "quantitative", "title": "Cross-sectional area (x10³ μm²)", "axis": {"offset": -1.7, "values": [0, 5, 10, 15, 20, 25], "labelFontSize": 15, "labelPadding": 3, "titleFontSize": 16, "titlePadding": 5, "domainColor": "black", "domainWidth": 2.5, "tickColor": "black", "tickWidth": 2.5, "tickSize": 7}}, "text": {"field": "t"}}},
    {"data": {"name": "D_lab"}, "transform": [{"filter": "datum.t !== '*' && datum.pos === 'between'"}],
     "mark": {"type": "text", "font": "Liberation Serif", "fontSize": 25, "baseline": "alphabetic", "dx": 28.85, "color": "black"},
     "encoding": {"y": {"field": "y", "type": "quantitative", "title": "Cross-sectional area (x10³ μm²)", "axis": {"offset": -1.7, "values": [0, 5, 10, 15, 20, 25], "labelFontSize": 15, "labelPadding": 3, "titleFontSize": 16, "titlePadding": 5, "domainColor": "black", "domainWidth": 2.5, "tickColor": "black", "tickWidth": 2.5, "tickSize": 7}}, "text": {"field": "t"}}}
  ]
}
]
}
